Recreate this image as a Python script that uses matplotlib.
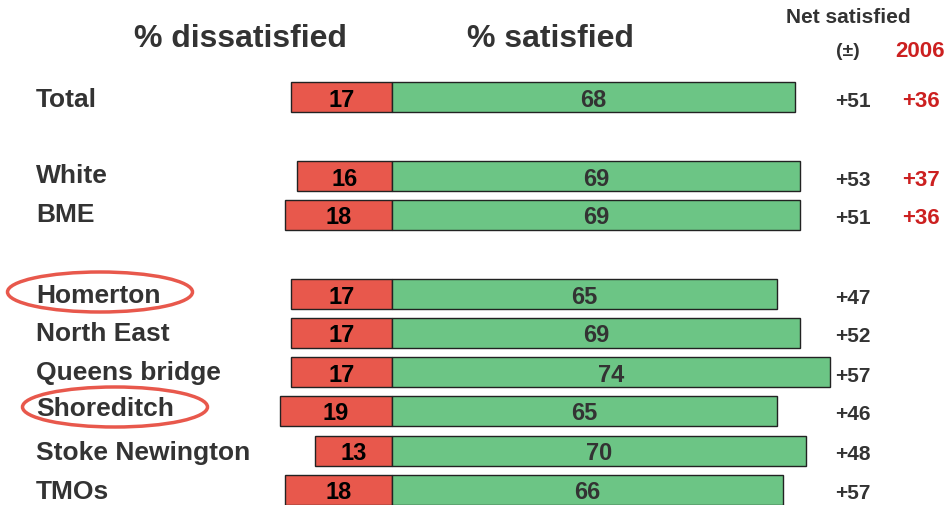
import matplotlib.pyplot as plt
from matplotlib.patches import Ellipse

plt.rcParams['font.family'] = ['Liberation Sans', 'DejaVu Sans']

# ─── Data ─────────────────────────────────────────────────────────────────────

groups       = ['Total', 'White', 'BME', 'Homerton', 'North East',
                'Queens bridge', 'Shoreditch', 'Stoke Newington', 'TMOs']
dissatisfied = [17, 16, 18, 17, 17, 17, 19, 13, 18]
satisfied    = [68, 69, 69, 65, 69, 74, 65, 70, 66]
net          = ['+51', '+53', '+51', '+47', '+52', '+57', '+46', '+48', '+57']
net_2006     = ['+36', '+37', '+36', '', '', '', '', '', '']
circled      = ['Homerton', 'Shoreditch']

# ─── Layout (pixel rows, top = 0) ─────────────────────────────────────────────

row_y   = [98, 177, 216, 295, 334, 373, 412, 452, 491]
label_y = [100, 176, 215, 296, 334, 373, 409, 453, 492]
bar_h   = 30
scale   = 5.92          # pixels per percentage point
zero_x  = 392

RED   = '#E8584C'
GREEN = '#6CC585'
DARK  = '#333333'
DRED  = '#CC2020'

fig = plt.figure(figsize=(9.47, 5.06), dpi=100)
ax = fig.add_axes([0, 0, 1, 1])
ax.set_xlim(-zero_x / scale, (947 - zero_x) / scale)
ax.set_ylim(506, 0)
ax.axis('off')

# ─── Bars ─────────────────────────────────────────────────────────────────────

ax.barh(row_y, [-d for d in dissatisfied], height=bar_h, color=RED,
        edgecolor='#222222', linewidth=1)
ax.barh(row_y, satisfied, height=bar_h, color=GREEN,
        edgecolor='#222222', linewidth=1)

for y, ly, g, d, s, n, n6 in zip(row_y, label_y, groups, dissatisfied,
                                 satisfied, net, net_2006):
    ax.text(-d / 2, y + 2, str(d), ha='center', va='center',
            fontsize=17, fontweight='bold', color='black')
    ax.text(s / 2, y + 2, str(s), ha='center', va='center',
            fontsize=17, fontweight='bold', color=DARK)
    ax.text(-60.1, ly, g, ha='left', va='center',
            fontsize=19, fontweight='bold', color=DARK)
    ax.text((853 - zero_x) / scale, y + 3, n, ha='center', va='center',
            fontsize=15, fontweight='bold', color=DARK)
    if n6:
        ax.text((921 - zero_x) / scale, y + 3, n6, ha='center', va='center',
                fontsize=16, fontweight='bold', color=DRED)

# ─── Circles round selected areas ─────────────────────────────────────────────

for g, cx, cy in [('Homerton', 100, 293), ('Shoreditch', 115, 408)]:
    if g in circled:
        ax.add_patch(Ellipse(((cx - zero_x) / scale, cy), 185 / scale, 40,
                             fill=False, edgecolor=RED, linewidth=2.5))

# ─── Headers ──────────────────────────────────────────────────────────────────

ax.text((240 - zero_x) / scale, 39, '% dissatisfied', ha='center',
        va='center', fontsize=23, fontweight='bold', color=DARK)
ax.text((550 - zero_x) / scale, 39, '% satisfied', ha='center',
        va='center', fontsize=23, fontweight='bold', color=DARK)
ax.text((848 - zero_x) / scale, 17, 'Net satisfied', ha='center',
        va='center', fontsize=15, fontweight='bold', color=DARK)
ax.text((848 - zero_x) / scale, 51, '(±)', ha='center',
        va='center', fontsize=14, fontweight='bold', color=DARK)
ax.text((920 - zero_x) / scale, 51, '2006', ha='center',
        va='center', fontsize=16, fontweight='bold', color=DRED)

plt.savefig('out.png', dpi=100)
